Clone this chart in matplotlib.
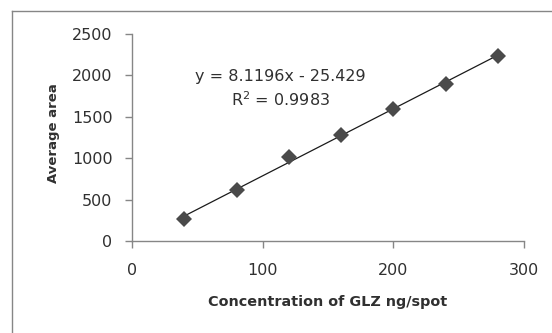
import numpy as np
import matplotlib
matplotlib.use('Agg')
import matplotlib.pyplot as plt
from matplotlib.lines import Line2D

# 濃度 (ng/spot) と平均面積
concentration = [40, 80, 120, 160, 200, 240, 280]
avg_area = [265, 615, 1015, 1285, 1595, 1895, 2240]

x_ticks = [0, 100, 200, 300]
y_ticks = [0, 500, 1000, 1500, 2000, 2500]
equation_text = 'y = 8.1196x - 25.429'
r2_text = 'R$^2$ = 0.9983'

plt.rcParams['font.family'] = ['DejaVu Sans']
plt.rcParams['mathtext.default'] = 'regular'
grey = '#868686'
text_color = '#303030'

W, H = 552, 333
fig = plt.figure(figsize=(W / 100, H / 100), dpi=100)
ax = fig.add_axes([132 / W, 1 - 241 / H, (524 - 132) / W, (241 - 34) / H])

# 近似直線
slope, intercept = np.polyfit(concentration, avg_area, 1)
xs = np.array([min(concentration), max(concentration)])
ax.plot(xs, slope * xs + intercept, color='#1a1a1a', lw=0.9, zorder=2)
ax.plot(concentration, avg_area, 'D', color='#4a4a4a', markersize=7.8,
        markeredgewidth=0, zorder=3)

ax.set_xlim(0, 300)
ax.set_ylim(0, 2500)
ax.set_xticks(x_ticks)
ax.set_yticks(y_ticks)
ax.tick_params(direction='out', length=5, width=1, color=grey,
               labelcolor=text_color, labelsize=11.5)
ax.tick_params(axis='y', pad=9)
ax.tick_params(axis='x', pad=11)
for side in ['top', 'right']:
    ax.spines[side].set_visible(False)
for side in ['left', 'bottom']:
    ax.spines[side].set_color(grey)
    ax.spines[side].set_linewidth(1)

fig.text(328 / W, 1 - 302 / H, 'Concentration of GLZ ng/spot', ha='center',
         va='center', fontsize=10.4, fontweight='bold', color=text_color)
fig.text(53 / W, 1 - 133 / H, 'Average area', ha='center', va='center',
         rotation=90, fontsize=9.5, fontweight='bold', color=text_color)

fig.text(280 / W, 1 - 76 / H, equation_text, ha='center', va='center',
         fontsize=11.5, color=text_color)
fig.text(280 / W, 1 - 100 / H, r2_text, ha='center', va='center',
         fontsize=11.5, color=text_color)

# グラフエリアの枠 (右と下は切れている)
fig.add_artist(Line2D([12 / W, 12 / W], [0, 1 - 11 / H],
                      transform=fig.transFigure, color=grey, lw=1))
fig.add_artist(Line2D([12 / W, 1], [1 - 11 / H, 1 - 11 / H],
                      transform=fig.transFigure, color=grey, lw=1))

fig.savefig('out.png', dpi=100)
